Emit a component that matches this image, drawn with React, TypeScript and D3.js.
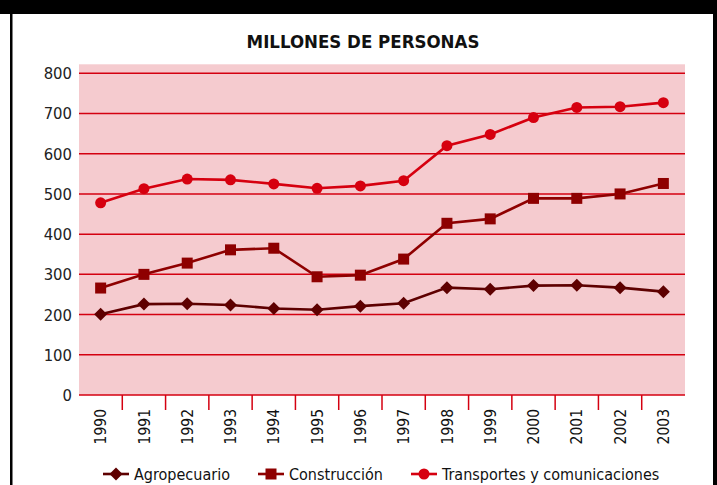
import * as d3 from "d3";
import React from "react";

const years = ["1990", "1991", "1992", "1993", "1994", "1995", "1996", "1997", "1998", "1999", "2000", "2001", "2002", "2003"];
const agropecuario = [201, 226, 227, 224, 215, 212, 221, 228, 267, 263, 272, 273, 267, 257];
const construccion = [266, 300, 328, 361, 365, 294, 298, 338, 427, 438, 489, 489, 500, 526];
const transportes = [478, 513, 537, 535, 525, 514, 520, 533, 620, 648, 690, 715, 717, 727];
const yTicks = [0, 100, 200, 300, 400, 500, 600, 700, 800];

const WIDTH = 717;
const HEIGHT = 485;
const FONT = "'DejaVu Sans Condensed', 'DejaVu Sans', sans-serif";
const GRID = "#d40010";

const series = [
  { name: "Agropecuario", values: agropecuario, color: "#5e0000", shape: "diamond" },
  { name: "Construcción", values: construccion, color: "#8e0000", shape: "square" },
  { name: "Transportes y comunicaciones", values: transportes, color: "#d6000f", shape: "circle" },
];

const Marker = ({ shape, x, y, color }: { shape: string; x: number; y: number; color: string }) => {
  if (shape === "diamond") {
    const s = 6.5;
    return <path d={`M${x},${y - s}L${x + s},${y}L${x},${y + s}L${x - s},${y}Z`} fill={color} />;
  }
  if (shape === "square") {
    return <rect x={x - 5.5} y={y - 5.5} width={11} height={11} fill={color} />;
  }
  return <circle cx={x} cy={y} r={5.5} fill={color} />;
};

export default function App() {
  const x = d3.scaleBand<string>().domain(years).range([79, 685]);
  const y = d3.scaleLinear().domain([0, 800]).range([395, 73.3]);

  const line = d3
    .line<number>()
    .x((_, i) => x(years[i])! + x.bandwidth() / 2)
    .y((d) => y(d));

  const legendX = [103, 258, 411];

  return (
    <svg width={WIDTH} height={HEIGHT} style={{ position: "absolute", left: 0, top: 0, background: "#fff" }}>
      {/* frame */}
      <rect x={0} y={0} width={WIDTH} height={14} fill="#000" />
      <rect x={10} y={0} width={2.5} height={HEIGHT} fill="#000" />
      <rect x={713} y={0} width={4} height={HEIGHT} fill="#000" />

      <text x={363} y={48} textAnchor="middle" fontFamily={FONT} fontWeight="bold" fontSize={18.5} fill="#111">
        MILLONES DE PERSONAS
      </text>

      {/* plot area */}
      <rect x={79} y={y(800) - 9} width={606} height={y(0) - y(800) + 9} fill="#f5cbcf" />
      {yTicks.map((t) => (
        <g key={t}>
          <line x1={79} x2={685} y1={y(t)} y2={y(t)} stroke={GRID} strokeWidth={1.5} />
          <text x={72} y={y(t)} dy="0.36em" textAnchor="end" fontFamily={FONT} fontSize={16.5} fill="#222">
            {t}
          </text>
        </g>
      ))}

      {/* x axis ticks between bands */}
      {years.slice(1).map((yr) => (
        <line key={yr} x1={x(yr)} x2={x(yr)} y1={395} y2={410} stroke={GRID} strokeWidth={1.5} />
      ))}
      {years.map((yr) => {
        const cx = x(yr)! + x.bandwidth() / 2;
        return (
          <text
            key={yr}
            transform={`translate(${cx},409) rotate(-90)`}
            textAnchor="end"
            dy="0.36em"
            fontFamily={FONT}
            fontSize={15.5}
            fill="#111"
          >
            {yr}
          </text>
        );
      })}

      {/* series */}
      {series.map((s) => (
        <g key={s.name}>
          <path d={line(s.values) ?? ""} fill="none" stroke={s.color} strokeWidth={2.6} />
          {s.values.map((v, i) => (
            <Marker key={i} shape={s.shape} x={x(years[i])! + x.bandwidth() / 2} y={y(v)} color={s.color} />
          ))}
        </g>
      ))}

      {/* legend */}
      {series.map((s, i) => (
        <g key={s.name} transform={`translate(${legendX[i]},474)`}>
          <line x1={0} x2={26} y1={0} y2={0} stroke={s.color} strokeWidth={2.6} />
          <Marker shape={s.shape} x={13} y={0} color={s.color} />
          <text x={31} y={0} dy="0.36em" fontFamily={FONT} fontSize={16} fill="#111">
            {s.name}
          </text>
        </g>
      ))}
    </svg>
  );
}
